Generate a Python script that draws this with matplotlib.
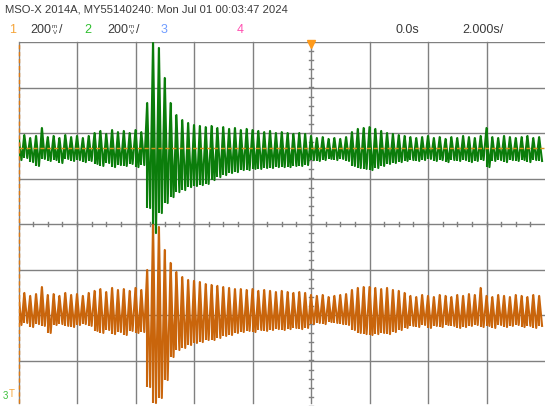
import numpy as np
import matplotlib
matplotlib.use('Agg')
import matplotlib.pyplot as plt

# Scope settings
header = 'MSO-X 2014A, MY55140240: Mon Jul 01 00:03:47 2024'
time_per_div = 2.0        # s/div
volts_per_div = 200       # mV/div
t_start = -10.0           # left edge of screen, s
t_end = 8.0               # right edge of screen, s
sample_dt = 0.1           # s between plotted peaks

# Channel offsets (mV, screen position of each trace ground)
green_offset = 334
orange_offset = -378
trig_level = 334

# Alternating peak values (mV), one hi/lo pair per 0.2 s
green_hi = [48, 57, 44, 53, 88, 48, 53, 44, 57, 48, 53, 44, 53,
            66, 75, 62, 79, 70, 75, 66, 79, 70,
            198, 462, 440, 308, 198, 145, 123, 110, 101, 97,
            92, 97, 88, 92, 84, 88, 79, 84, 79,
            75, 70, 75, 66, 70, 66, 62, 66, 62,
            53, 44, 48, 40, 44, 40, 48,
            70, 84, 88, 92, 84,
            75, 66, 62, 57, 53,
            48, 44, 48, 53, 44, 48, 40, 48, 44, 53, 48, 44, 53, 88, 48, 44,
            53, 48, 44, 48, 53, 44, 48]
green_lo = [-53, -44, -62, -79, -48, -57, -53, -66, -48, -57, -53, -62, -57,
            -70, -79, -66, -84, -75, -79, -70, -84, -75,
            -264, -374, -286, -242, -216, -194, -185, -172, -167, -163,
            -158, -141, -128, -119, -110, -106, -97, -97, -92,
            -92, -88, -88, -84, -84, -84, -79, -79, -75,
            -53, -57, -53, -48, -53, -48, -57,
            -79, -88, -92, -97, -88,
            -79, -70, -66, -62, -57,
            -53, -57, -53, -48, -57, -53, -62, -53, -57, -53, -62, -57, -53,
            -84, -57, -53, -62, -53, -57, -53, -62, -53, -57]
orange_hi = [66, 75, 62, 70, 101, 66, 70, 62, 75, 66, 70, 62, 75,
             84, 92, 79, 97, 88, 92, 84, 97, 88,
             176,
             374, 365, 264, 207, 167, 145, 132, 128, 123, 114, 110, 106, 101, 97, 92,
             92, 88, 92, 84, 88, 84, 79, 84, 79, 75, 79, 75,
             66, 62, 66, 57, 62, 66, 70,
             88, 97, 101, 101, 97, 92, 97, 88, 84, 75,
             62, 57, 66, 62, 57, 66, 62, 57, 66, 62, 70, 66, 97, 62, 57, 66,
             62, 57, 66, 62, 57, 66, 62]
orange_lo = [-66, -57, -75, -62, -70, -101, -66, -62, -70, -75, -66, -62, -70,
             -92, -101, -88, -106, -97, -110, -92, -101, -97,
             -339,
             -409, -387, -308, -207, -176, -167, -154, -145, -141, -132, -132,
             -123, -114, -110, -101,
             -97, -92, -97, -88, -92, -88, -84, -88, -84, -79, -84, -79,
             -62, -57, -62, -53, -57, -62, -66,
             -88, -101, -106, -110, -106, -101, -106, -97, -88, -79,
             -70, -75, -66, -79, -70, -75, -66, -70, -79, -75, -70, -66, -75,
             -70, -79, -66, -75, -70, -66, -75, -70, -79, -70]

GRID = '#808080'
GREEN = '#0b7d0b'
ORANGE = '#c9650c'
TEXT = '#3a3a3a'
FONT = ['Liberation Sans', 'DejaVu Sans']
FS = 9


def draw_trace(ax, hi, lo, offset, color):
    """Interleave hi/lo peaks into one zigzag waveform, with vertical strokes."""
    hi = np.array(hi) + offset
    lo = np.array(lo) + offset
    y = np.empty(len(hi) + len(lo))
    y[0::2] = hi
    y[1::2] = lo
    t = t_start + sample_dt * np.arange(len(y))
    ax.vlines(t[0::2], lo, hi, color=color, lw=1.5, zorder=3)
    ax.plot(t, y, color=color, lw=1.5, zorder=3)


fig = plt.figure(figsize=(5.5, 4.09), dpi=100)
fig.patch.set_facecolor('white')
ax = fig.add_axes([18.5 / 550, 3 / 409, 526.5 / 550, 364 / 409])
ax.set_xlim(t_start, t_end)
ax.set_ylim(-4 * volts_per_div, 4 * volts_per_div)
ax.axis('off')

# graticule
y_bot = -3.93 * volts_per_div
for t in np.arange(t_start, t_end, time_per_div):
    ax.plot([t, t], [y_bot, 4 * volts_per_div], color=GRID, lw=1.0, zorder=1,
            clip_on=False)
for v in np.arange(-3, 5) * volts_per_div:
    ax.axhline(v, color=GRID, lw=1.0, zorder=1)
# minor ticks on the centre axes
for t in np.arange(t_start, t_end, time_per_div / 4):
    ax.plot([t, t], [-10, 10], color=GRID, lw=1.0, zorder=1)
for v in np.arange(-4, 4, 0.2) * volts_per_div:
    ax.plot([-0.08, 0.08], [v, v], color=GRID, lw=1.0, zorder=1)

# waveforms
draw_trace(ax, green_hi, green_lo, green_offset, GREEN)
draw_trace(ax, orange_hi, orange_lo, orange_offset, ORANGE)

# trigger level and left marker
ax.axhline(trig_level, color='#d8951e', lw=1.0, ls=(0, (3, 2)), zorder=4)
ax.plot([t_start] * 2, [y_bot, 4 * volts_per_div], color='#e07a10',
        lw=1.0, ls=(0, (3, 2)), zorder=4, clip_on=False)
ax.plot([0], [4 * volts_per_div - 8], marker='v', color='#ff9a1a', ms=6,
        mec='#ff9a1a', zorder=5, clip_on=False)

# header
fig.text(5 / 550, 1 - 10 / 409, header, color=TEXT, fontsize=8.1, family=FONT,
         va='center', ha='left')
row = 1 - 30 / 409
fig.canvas.draw()
renderer = fig.canvas.get_renderer()


def vdiv(x):
    t = fig.text(x / 550, row, '200', color=TEXT, fontsize=FS, family=FONT,
                 va='center', ha='left')
    x2 = t.get_window_extent(renderer).x1 + 1
    fig.text(x2 / 550, row + 3 / 409, 'm', color=TEXT, fontsize=4.5,
             family=FONT, va='center', ha='left')
    fig.text((x2 + 0.5) / 550, row - 3 / 409, 'V', color=TEXT, fontsize=4.5,
             family=FONT, va='center', ha='left')
    fig.text((x2 + 7) / 550, row, '/', color=TEXT, fontsize=FS, family=FONT,
             va='center', ha='left')


fig.text(9 / 550, row, '1', color='#f5a53a', fontsize=FS, family=FONT, va='center')
vdiv(30)
fig.text(84 / 550, row, '2', color='#2fbf2f', fontsize=FS, family=FONT, va='center')
vdiv(107)
fig.text(161 / 550, row, '3', color='#6f9cff', fontsize=FS, family=FONT, va='center')
fig.text(237 / 550, row, '4', color='#ff4fb0', fontsize=FS, family=FONT, va='center')
fig.text(395 / 550, row, '0.0s', color=TEXT, fontsize=FS, family=FONT, va='center')
fig.text(462 / 550, row, '2.000s/', color=TEXT, fontsize=FS, family=FONT, va='center')

# ground / trigger markers bottom left
fig.text(3 / 550, 1 - 396 / 409, '3', color='#3cc03c', fontsize=7, family=FONT,
         va='center')
fig.text(9 / 550, 1 - 394 / 409, 'T', color='#f5a53a', fontsize=7, family=FONT,
         va='center')

fig.savefig('out.png', dpi=100, facecolor='white')
